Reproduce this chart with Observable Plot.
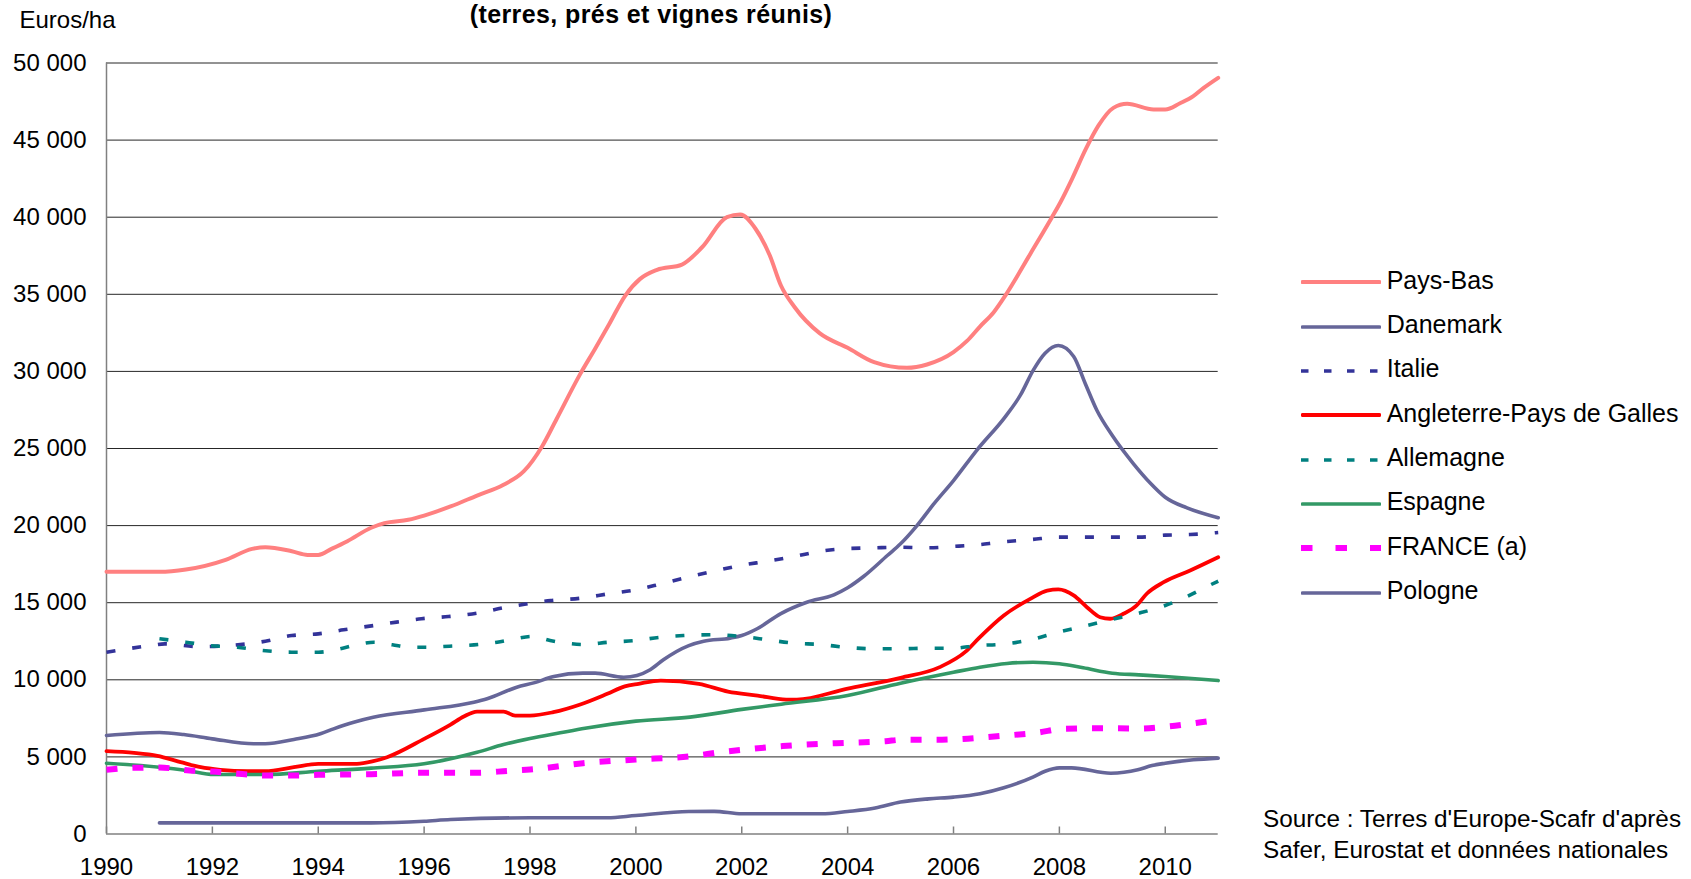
<!DOCTYPE html>
<html>
<head>
<meta charset="utf-8">
<script src="https://cdn.jsdelivr.net/npm/d3@7"></script>
<script src="https://cdn.jsdelivr.net/npm/@observablehq/plot@0.6"></script>
<style>
  body { margin: 0; background: #fff; font-family: "Liberation Sans", Arial, sans-serif; color: #000; }
  #wrap { position: relative; width: 1691px; height: 879px; overflow: hidden; }
  #chart { position: absolute; left: 0; top: 0; }
  .abs { position: absolute; white-space: nowrap; }
  #title { left: 0; width: 1302px; text-align: center; top: 0px; font-size: 25px; line-height: 28px; font-weight: bold; letter-spacing: 0.4px; }
  #unit { left: 19.5px; top: 7.7px; font-size: 24px; line-height: 24px; }
  #source { left: 1263px; top: 802.9px; font-size: 24.3px; line-height: 31px; }
  #legend { left: 1301px; top: 260.2px; }
  .row { display: flex; align-items: center; height: 44.35px; }
  .row svg { display: block; }
  .row span { font-size: 25px; line-height: 44.35px; margin-left: 5.7px; position: relative; top: -2.5px; }
</style>
</head>
<body>
<div id="wrap">
  <div id="chart"></div>
  <div id="title" class="abs">(terres, prés et vignes réunis)</div>
  <div id="unit" class="abs">Euros/ha</div>
  <div id="legend" class="abs"></div>
  <div id="source" class="abs">Source : Terres d'Europe-Scafr d'après<br>Safer, Eurostat et données nationales</div>
</div>
<script>
// ---- Data (year, euros/ha) ----
const paysBas = [[1990,17000],[1991,17000],[1991.5,17150],[1992.25,17780],[1992.75,18490],[1993,18600],[1993.5,18340],[1993.8,18100],[1994,18100],[1994.25,18490],[1994.55,18990],[1995,19860],[1995.25,20160],[1995.7,20380],[1996,20650],[1996.5,21240],[1997,21950],[1997.5,22650],[1997.88,23510],[1998.23,25150],[1998.5,26900],[1998.95,29840],[1999.23,31470],[1999.5,33090],[1999.8,34920],[2000.08,36000],[2000.4,36590],[2000.87,36930],[2001.25,38050],[2001.72,40000],[2001.97,40170],[2002.26,39250],[2002.53,37520],[2002.74,35570],[2003,34160],[2003.47,32480],[2004,31530],[2004.5,30600],[2005.12,30230],[2005.5,30450],[2006,31250],[2006.25,31960],[2006.5,32910],[2006.76,33840],[2007,35030],[2007.45,37620],[2007.86,40000],[2008.02,40970],[2008.24,42490],[2008.5,44430],[2008.74,45950],[2009.02,47090],[2009.28,47350],[2009.78,46980],[2010,46980],[2010.28,47390],[2010.53,47850],[2010.72,48370],[2011,49040]];
const danemark = [[1990,6390],[1991,6580],[1991.46,6450],[1992,6170],[1992.78,5850],[1993,5850],[1993.54,6130],[1994.04,6500],[1994.29,6820],[1994.67,7250],[1995.04,7570],[1996,8050],[1996.94,8550],[1997.19,8770],[1997.75,9520],[1998.07,9800],[1998.45,10210],[1999,10430],[1999.23,10430],[1999.77,10170],[2000.02,10280],[2000.27,10650],[2000.52,11300],[2001,12220],[2001.28,12500],[2001.78,12700],[2002,12870],[2002.29,13310],[2002.73,14280],[2003.23,15030],[2003.74,15510],[2004,15970],[2004.3,16700],[2004.75,18060],[2005,18820],[2005.31,20000],[2005.62,21370],[2006,22920],[2006.45,24930],[2006.98,27070],[2007.26,28440],[2007.51,30100],[2007.73,31180],[2007.98,31680],[2008.27,30970],[2008.49,29200],[2008.71,27460],[2009,25840],[2009.4,24010],[2009.72,22750],[2010,21840],[2010.41,21150],[2011,20510]];
const italie = [[1990,11790],[1990.83,12220],[1991.1,12330],[1991.75,12150],[1992.2,12200],[1993,12500],[1993.5,12870],[1994,12980],[1994.48,13240],[1994.97,13480],[1995.48,13740],[1995.95,13960],[1996.46,14100],[1997,14320],[1997.5,14670],[1998.03,14970],[1998.39,15140],[1998.95,15290],[1999.49,15580],[2000,15840],[2000.43,16180],[2000.9,16590],[2001.47,17040],[2001.97,17410],[2002.48,17690],[2003,18000],[2003.48,18340],[2003.92,18500],[2004.49,18560],[2005,18600],[2005.5,18560],[2006,18650],[2006.5,18770],[2006.82,18900],[2007.48,19100],[2008,19250],[2009,19250],[2009.5,19250],[2010,19380],[2010.47,19420],[2011,19550]];
const angleterre = [[1990,5370],[1990.52,5260],[1990.96,5070],[1991.4,4660],[1991.78,4330],[1992.15,4160],[1992.66,4070],[1993,4070],[1993.54,4330],[1994,4550],[1994.73,4550],[1995.04,4720],[1995.3,4980],[1996,6170],[1996.5,7100],[1996.75,7620],[1997,7940],[1997.5,7940],[1997.72,7680],[1998,7680],[1998.44,7900],[1998.95,8400],[1999.46,9090],[1999.79,9570],[2000.05,9740],[2000.47,9950],[2001.19,9740],[2001.74,9240],[2002.3,8980],[2002.84,8720],[2003.04,8720],[2003.98,9410],[2005,10130],[2005.74,10820],[2006.24,11860],[2006.48,12700],[2006.95,14170],[2007.45,15250],[2007.77,15790],[2007.98,15860],[2008.27,15470],[2008.52,14710],[2008.77,14060],[2008.96,13960],[2009.21,14280],[2009.46,14820],[2009.65,15580],[2009.97,16330],[2010.47,17090],[2011,17950]];
const allemagne = [[1991,12660],[1991.5,12440],[1991.95,12220],[1992.47,12110],[1992.95,11900],[1993.5,11790],[1994,11790],[1994.46,12050],[1994.8,12330],[1995.05,12440],[1995.4,12270],[1995.75,12110],[1996.02,12110],[1996.48,12180],[1997.03,12290],[1997.38,12440],[1997.72,12660],[1998.04,12810],[1998.38,12550],[1998.7,12370],[1999.01,12290],[1999.49,12440],[2000,12550],[2000.46,12760],[2000.9,12870],[2001.47,12920],[2002,12810],[2002.5,12590],[2003,12370],[2003.48,12290],[2003.96,12110],[2004.49,12010],[2005,12010],[2005.5,12050],[2006,12050],[2006.44,12220],[2006.88,12300],[2007.45,12590],[2007.98,13090],[2008.45,13460],[2008.96,13890],[2009.5,14320],[2010,14820],[2010.41,15400],[2010.79,16050],[2011,16400]];
const espagne = [[1990,4590],[1991,4330],[1991.52,4120],[1992.03,3860],[1993,3860],[1994,4070],[1995,4270],[1996,4550],[1996.5,4880],[1997,5300],[1997.5,5800],[1998,6190],[1998.57,6560],[1999.04,6860],[2000,7320],[2001.02,7580],[2002,8080],[2002.75,8420],[2004,8980],[2005,9780],[2006,10490],[2006.5,10820],[2007.01,11060],[2007.5,11140],[2008,11040],[2008.45,10780],[2009,10430],[2009.5,10320],[2010,10210],[2011,9950]];
const france = [[1990,4160],[1990.5,4290],[1991,4310],[1991.57,4120],[1992,4050],[1992.7,3850],[1993,3790],[1993.66,3790],[1994,3840],[1995,3880],[1996,3970],[1997,3970],[1997.6,4100],[1998,4180],[1999,4590],[2000,4830],[2001,5030],[2001.62,5310],[2002.07,5480],[2002.77,5700],[2003.78,5890],[2004.06,5920],[2004.72,6020],[2005.02,6110],[2005.67,6110],[2006.08,6150],[2006.82,6340],[2007.6,6580],[2008.06,6820],[2008.8,6860],[2009.5,6840],[2010.06,6980],[2010.64,7230],[2011,7400]];
const pologne = [[1991,720],[1995,720],[1996,830],[1996.5,940],[1998,1050],[1999.46,1050],[2000,1200],[2001,1460],[2001.48,1470],[2002,1310],[2003.51,1310],[2004,1460],[2004.52,1680],[2005,2070],[2005.53,2280],[2006,2390],[2006.5,2610],[2006.95,3000],[2007.5,3690],[2007.73,4070],[2008,4290],[2008.23,4290],[2008.97,3940],[2009.48,4160],[2009.75,4440],[2010,4590],[2010.53,4810],[2011,4920]];

const yTicks = [0, 5000, 10000, 15000, 20000, 25000, 30000, 35000, 40000, 45000, 50000];
const xTicks = [1990, 1992, 1994, 1996, 1998, 2000, 2002, 2004, 2006, 2008, 2010];

// ---- Series styles ----
const series = [
  {name: "Pays-Bas", data: paysBas, stroke: "#FF8080", width: 4, dash: null, legendDash: null},
  {name: "Danemark", data: danemark, stroke: "#666699", width: 3.6, dash: null, legendDash: null},
  {name: "Italie", data: italie, stroke: "#333399", width: 3.6, dash: "9,17", legendDash: "7.5,15.5"},
  {name: "Angleterre-Pays de Galles", data: angleterre, stroke: "#FF0000", width: 3.8, dash: null, legendDash: null},
  {name: "Allemagne", data: allemagne, stroke: "#008080", width: 3.6, dash: "9,17", legendDash: "7.5,15.5"},
  {name: "Espagne", data: espagne, stroke: "#339966", width: 3.6, dash: null, legendDash: null},
  {name: "FRANCE (a)", data: france, stroke: "#FF00FF", width: 6, dash: "11,15", legendDash: "11.5,23"},
  {name: "Pologne", data: pologne, stroke: "#666699", width: 3.6, dash: null, legendDash: null}
];

const fmt = d => d === 0 ? "0" : d3.format(",")(d).replace(/,/g, " ");

const lineMarks = series.map(s => Plot.line(
  s.data.map(([year, value]) => ({year, value})),
  {
    x: "year", y: "value", stroke: s.stroke, strokeWidth: s.width,
    strokeDasharray: s.dash, strokeLinecap: s.dash ? "butt" : "round",
    curve: "monotone-x"
  }
));

const chart = Plot.plot({
  width: 1691,
  height: 879,
  marginLeft: 106,
  marginRight: 473.3,
  marginTop: 62.5,
  marginBottom: 45.5,
  x: {domain: [1990, 2011], label: null},
  y: {domain: [0, 50000], label: null},
  style: {fontFamily: "'Liberation Sans', Arial, sans-serif", fontSize: "24px", color: "#000", background: "white"},
  marks: [
    Plot.gridY(yTicks.filter(d => d > 0), {stroke: "#000", strokeOpacity: 0.85, strokeWidth: 1}),
    Plot.ruleY([0], {stroke: "#808080", strokeWidth: 1.5}),
    Plot.ruleX([1990], {stroke: "#808080", strokeWidth: 1.5}),
    Plot.axisY({ticks: yTicks, tickSize: 0, tickPadding: 20, tickFormat: fmt, fontSize: 24, label: null}),
    Plot.axisX({ticks: xTicks, tickSize: -7, tickPadding: 31, tickFormat: d => String(d), stroke: "#808080", strokeWidth: 1.5, fontSize: 24, label: null}),
    ...lineMarks
  ]
});
document.getElementById("chart").appendChild(chart);

// ---- Legend ----
const legend = document.getElementById("legend");
for (const s of series) {
  const row = document.createElement("div");
  row.className = "row";
  const dash = s.legendDash ? ` stroke-dasharray="${s.legendDash}"` : "";
  const cap = s.legendDash ? "butt" : "round";
  row.innerHTML = `<svg width="80" height="20"><line x1="${s.legendDash ? 0 : 1.5}" x2="${s.legendDash ? 80 : 78.5}" y1="10" y2="10" stroke="${s.stroke}" stroke-width="${s.width}" stroke-linecap="${cap}"${dash}/></svg><span>${s.name}</span>`;
  legend.appendChild(row);
}
</script>
</body>
</html>
